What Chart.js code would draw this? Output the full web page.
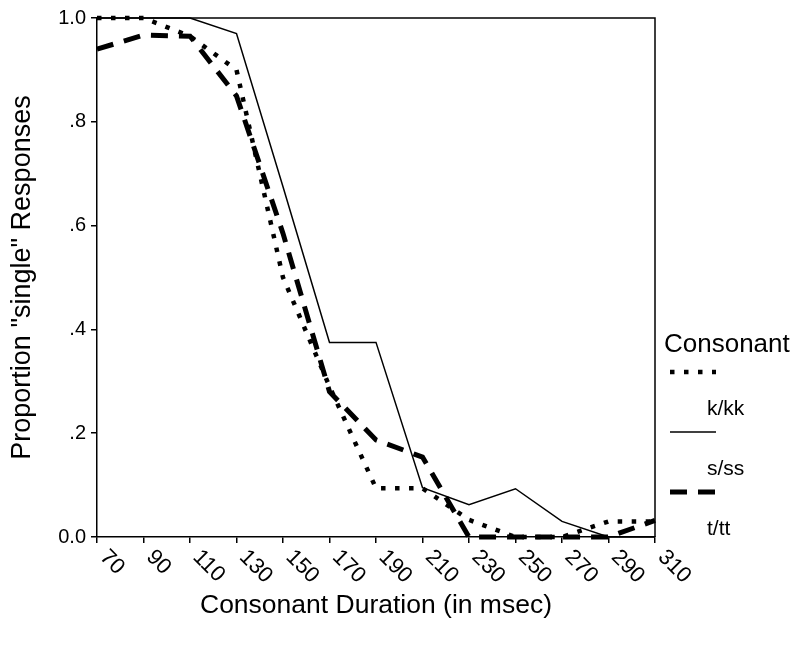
<!DOCTYPE html>
<html>
<head>
<meta charset="utf-8">
<script src="https://cdn.jsdelivr.net/npm/chart.js@4.4.0/dist/chart.umd.min.js"></script>
<style>
  html, body { margin: 0; padding: 0; background: #fff; }
  #wrap { width: 794px; height: 646px; }
</style>
</head>
<body>
<div id="wrap"><canvas id="chart" width="794" height="646"></canvas></div>
<script>
"use strict";

// consonant duration in msec (x categories)
const durations = ["70", "90", "110", "130", "150", "170", "190", "210", "230", "250", "270", "290", "310"];

// proportion of "single" responses per consonant pair
const kkValues = [1.0, 1.0, 0.965, 0.90, 0.50, 0.29, 0.094, 0.094, 0.033, 0.0, 0.0, 0.03, 0.03];
const ssValues = [1.0, 1.0, 1.0, 0.97, 0.675, 0.375, 0.375, 0.095, 0.062, 0.093, 0.03, 0.0, 0.0];
const ttValues = [0.94, 0.967, 0.965, 0.85, 0.585, 0.28, 0.187, 0.154, 0.0, 0.0, 0.0, 0.0, 0.032];

const seriesLabels = ["k/kk", "s/ss", "t/tt"];
const legendTitle = "Consonant";
const xTitle = "Consonant Duration (in msec)";
const yTitle = 'Proportion "single" Responses';

const FONT = "'Liberation Sans', Arial, sans-serif";

function yTickText(v) {
    if (v === 0) return "0.0";
    if (v === 1) return "1.0";
    return "." + Math.round(v * 10);
}

// x labels run down to the right, which chart.js can't do itself
const slantedXLabels = {
    id: "slantedXLabels",
    afterDraw(chart) {
        const xs = chart.scales.x;
        const ctx = chart.ctx;
        ctx.save();
        ctx.font = "22px " + FONT;
        ctx.fillStyle = "#000";
        ctx.textAlign = "left";
        ctx.textBaseline = "alphabetic";
        xs.ticks.forEach((t, i) => {
            ctx.save();
            ctx.translate(xs.getPixelForTick(i) + 2, xs.top + 21);
            ctx.rotate(Math.PI / 4);
            ctx.fillText(xs.getLabelForValue(t.value), 0, 0);
            ctx.restore();
        });
        ctx.restore();
    }
};

// closes the plot box (top + right edges)
const frameBox = {
    id: "frameBox",
    afterDraw(chart) {
        const a = chart.chartArea;
        const ctx = chart.ctx;
        ctx.save();
        ctx.strokeStyle = "#000";
        ctx.lineWidth = 1.5;
        ctx.beginPath();
        ctx.moveTo(a.left, a.top);
        ctx.lineTo(a.right, a.top);
        ctx.lineTo(a.right, a.bottom);
        ctx.stroke();
        ctx.restore();
    }
};

// legend: title, then each line sample with its label underneath
const sideLegend = {
    id: "sideLegend",
    afterDraw(chart) {
        const ctx = chart.ctx;
        const x0 = chart.chartArea.right + 8;
        ctx.save();
        ctx.fillStyle = "#000";
        ctx.textAlign = "left";
        ctx.textBaseline = "alphabetic";
        ctx.font = "26px " + FONT;
        ctx.fillText(legendTitle, x0 + 1, 352);
        chart.data.datasets.forEach((ds, i) => {
            const ly = 372 + i * 60;
            ctx.save();
            ctx.strokeStyle = ds.borderColor;
            ctx.lineWidth = ds.borderWidth;
            ctx.lineCap = "butt";
            ctx.setLineDash(ds.borderDash || []);
            ctx.beginPath();
            ctx.moveTo(x0 + 7, ly);
            ctx.lineTo(x0 + 53, ly);
            ctx.stroke();
            ctx.restore();
            ctx.font = "21px " + FONT;
            ctx.fillText(ds.label, x0 + 44, ly + 43);
        });
        ctx.restore();
    }
};

new Chart(document.getElementById("chart"), {
    type: "line",
    data: {
        labels: durations,
        datasets: [
            {
                label: seriesLabels[0],
                data: kkValues,
                borderColor: "#000",
                borderWidth: 4.5,
                borderDash: [4.5, 9.5],
                borderCapStyle: "butt"
            },
            {
                label: seriesLabels[1],
                data: ssValues,
                borderColor: "#000",
                borderWidth: 1.5
            },
            {
                label: seriesLabels[2],
                data: ttValues,
                borderColor: "#000",
                borderWidth: 5,
                borderDash: [17, 11],
                borderCapStyle: "butt"
            }
        ]
    },
    options: {
        responsive: false,
        animation: false,
        devicePixelRatio: 1,
        clip: false,
        elements: {
            point: { radius: 0, hoverRadius: 0 },
            line: { tension: 0, fill: false }
        },
        layout: { padding: { top: 18, right: 139, left: 0, bottom: 0 } },
        plugins: {
            legend: { display: false },
            tooltip: { enabled: false }
        },
        scales: {
            x: {
                type: "category",
                offset: false,
                afterFit: s => { s.height = 109; },
                grid: {
                    display: true,
                    drawOnChartArea: false,
                    drawTicks: true,
                    tickLength: 6,
                    color: "#000",
                    lineWidth: 1.5
                },
                border: { display: true, color: "#000", width: 1.5 },
                ticks: { display: false },
                title: {
                    display: true,
                    text: xTitle,
                    color: "#000",
                    font: { family: FONT, size: 26.5 },
                    padding: { top: 0, bottom: 24 }
                }
            },
            y: {
                min: 0,
                max: 1,
                afterFit: s => { s.width = 97; },
                grid: {
                    display: true,
                    drawOnChartArea: false,
                    drawTicks: true,
                    tickLength: 6,
                    color: "#000",
                    lineWidth: 1.5
                },
                border: { display: true, color: "#000", width: 1.5 },
                ticks: {
                    stepSize: 0.2,
                    color: "#000",
                    padding: 5,
                    font: { family: FONT, size: 20 },
                    callback: v => yTickText(v)
                },
                title: {
                    display: true,
                    text: yTitle,
                    color: "#000",
                    font: { family: FONT, size: 27 },
                    padding: { top: 6, bottom: 0 }
                }
            }
        }
    },
    plugins: [slantedXLabels, frameBox, sideLegend]
});
</script>
</body>
</html>
